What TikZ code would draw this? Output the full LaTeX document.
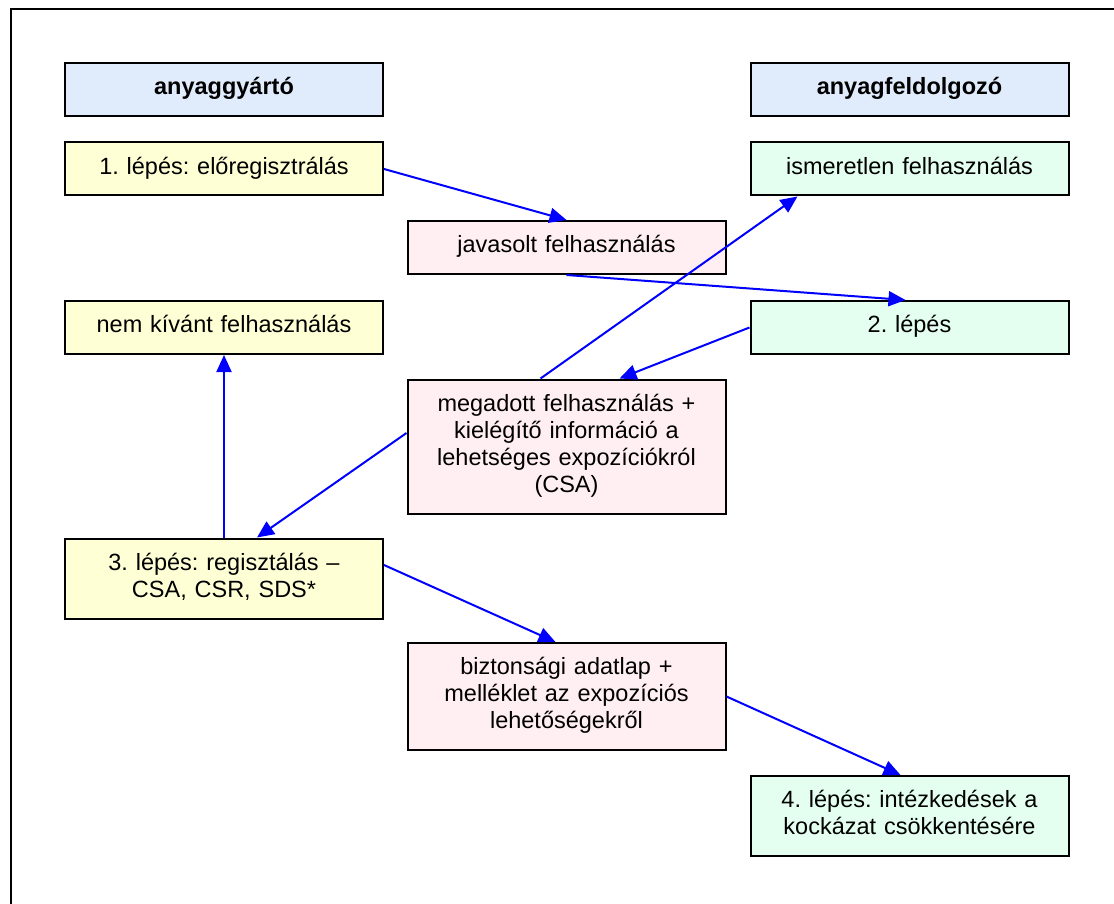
\documentclass[tikz,border=0pt]{standalone}
\usepackage{fontspec}
\setmainfont{Liberation Sans}
\frenchspacing
\usetikzlibrary{arrows.meta}
\definecolor{kek}{RGB}{224,235,252}
\definecolor{sarga}{RGB}{255,255,214}
\definecolor{rozsa}{RGB}{255,239,242}
\definecolor{zold}{RGB}{228,255,240}
\tikzset{
    doboz/.style={
           rectangle,
           draw=black, line width=2pt,
           minimum width=318pt,
           text width=304pt,
           inner ysep=13pt,
           align=center,
           font=\fontsize{23.5}{27}\selectfont,
           execute at begin node=\strut,
           execute at end node=\strut},
    dobozkek/.style={doboz, fill=kek, font=\fontsize{23.5}{27}\selectfont\bfseries},
    dobozsarga/.style={doboz, fill=sarga},
    dobozrozsa/.style={doboz, fill=rozsa},
    dobozzold/.style={doboz, fill=zold},
    nyil/.style={-{Triangle[length=17pt,width=15pt]}, blue, line width=2pt}
    }
\begin{document}
\begin{tikzpicture}[x=1pt,y=-1pt]
      \useasboundingbox (0,0) rectangle (1114,904);
      \draw[line width=2pt] (11,9) rectangle (1130,920);
      \node[dobozkek] (0) at (224,89.5) {anyaggyártó};
      \node[dobozkek] (1) at (909.5,89.5) {anyagfeldolgozó};
      \node[dobozsarga] (2) at (224,169) {1. lépés: előregisztrálás};
      \node[dobozzold] (3) at (909.5,169) {ismeretlen felhasználás};
      \node[dobozrozsa] (4) at (566.5,247.5) {javasolt felhasználás};
      \node[dobozsarga] (5) at (224,327.5) {nem kívánt felhasználás};
      \node[dobozzold] (6) at (909.5,327.5) {2. lépés};
      \node[dobozrozsa] (7) at (566.5,446.5) {megadott felhasználás + \\ kielégítő információ a \\ lehetséges expozíciókról \\ (CSA)};
      \node[dobozsarga] (8) at (224,578.5) {3. lépés: regisztálás – \\ CSA, CSR, SDS*};
      \node[dobozrozsa] (9) at (566.5,696.5) {biztonsági adatlap + \\ melléklet az expozíciós \\ lehetőségekről};
      \node[dobozzold] (10) at (909.5,816) {4. lépés: intézkedések a \\ kockázat csökkentésére};
      \draw[nyil] (2.east) -- (4.north);
      \draw[nyil] (4.south) -- ([xshift=-4pt]6.north);
      \draw[nyil] (6.west) -- ([xshift=53pt]7.north);
      \draw[nyil] ([xshift=-26pt]7.north) -- ([xshift=-112pt]3.south);
      \draw[nyil] ([yshift=13.5pt]7.west) -- ([xshift=33pt]8.north);
      \draw[nyil] (8.north) -- (5.south);
      \draw[nyil] ([yshift=13.5pt]8.east) -- ([xshift=-11pt]9.north);
      \draw[nyil] (9.east) -- ([xshift=-9pt]10.north);
\end{tikzpicture}
\end{document}
